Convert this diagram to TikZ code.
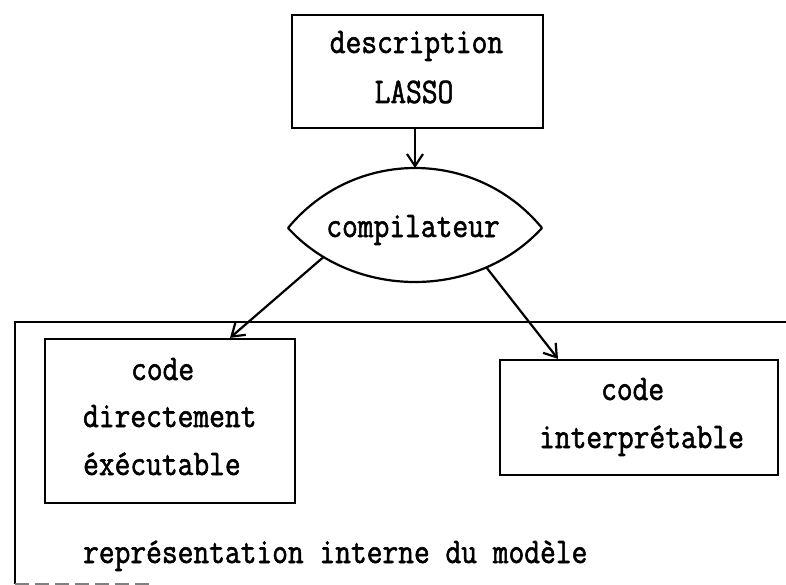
\documentclass[tikz,border=0pt]{standalone}
\usepackage{fontspec}
\newfontfamily\twfont[FakeStretch=0.85,FakeBold=1.5]{Latin Modern Mono}
\usetikzlibrary{arrows.meta}
\begin{document}
\begin{tikzpicture}[x=1pt,y=-1pt,
  line width=2.2pt,
  box/.style={draw, rectangle, inner sep=0pt},
  txt/.style={font=\twfont\fontsize{36}{48}\selectfont, inner sep=0pt, anchor=base west},
  ctxt/.style={font=\twfont\fontsize{36}{48}\selectfont, inner sep=0pt, anchor=base},
  arr/.style={-{Straight Barb[length=12pt,width=16pt]}, line width=2.2pt}]
\useasboundingbox (0,0) rectangle (786,585);
% outer frame (representation interne)
\draw (790,322) -- (15,322) -- (15,584);
\draw[gray, line width=1.2pt, dash pattern=on 14pt off 6pt] (15,584) -- (150,584);
% top box
\node[box, minimum width=251pt, minimum height=113pt] (desc) at (417.5,71.5) {};
\node[ctxt] (t1) at (416.5,53) {description};
\node[ctxt] (t2) at (414,103) {LASSO};
% lens (compilateur)
\coordinate (L) at (288,228);
\coordinate (R) at (542,228);
\draw (L) .. controls (354,148) and (476,148) .. (R);
\draw (L) .. controls (354,300) and (476,300) .. coordinate[pos=0.16] (cl) coordinate[pos=0.76] (cr) (R);
\coordinate (ctop) at (415,168);
\node[ctxt] (comp) at (413,237) {compilateur};
% left box
\node[box, minimum width=250pt, minimum height=164pt] (exe) at (170,421) {};
\node[txt] (e1) at (130,380) {code};
\node[txt] (e2) at (82,427) {directement};
\node[txt] (e3) at (82,475) {éxécutable};
% right box
\node[box, minimum width=278pt, minimum height=115pt] (interp) at (639,417.5) {};
\node[txt] (i1) at (600,400) {code};
\node[txt] (i2) at (538,448) {interprétable};
% bottom label
\node[txt] (rep) at (82,563) {représentation interne du modèle};
% arrows
\draw[arr] (desc.south -| ctop) -- (ctop);
\draw[arr] (cl) -- (exe.north -| 230,0);
\draw[arr] (cr) -- (interp.north -| 558,0);
\end{tikzpicture}
\end{document}
